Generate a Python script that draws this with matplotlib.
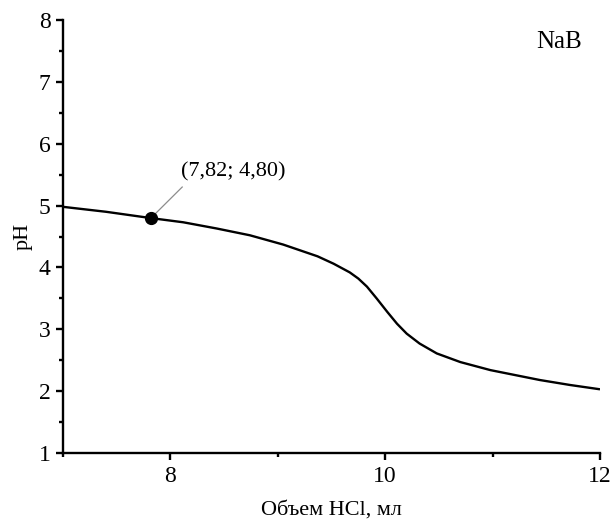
"""
Кривая титрования NaB раствором HCl
"""

import matplotlib.pyplot as plt
from matplotlib.ticker import MultipleLocator

# Данные
volume_hcl = [7.0, 7.4, 7.81, 8.12, 8.43, 8.74, 9.05, 9.37, 9.52, 9.67,
              9.75, 9.83, 9.92, 10.02, 10.11, 10.20, 10.32, 10.48, 10.70,
              10.98, 11.44, 11.72, 12.0]
ph_values = [4.98, 4.90, 4.80, 4.73, 4.63, 4.52, 4.37, 4.18, 4.06, 3.92,
             3.82, 3.69, 3.50, 3.28, 3.09, 2.93, 2.77, 2.61, 2.47,
             2.34, 2.18, 2.10, 2.03]
point_x, point_y = 7.82, 4.80
point_label = "(7,82; 4,80)"
salt_label = "NaB"

plt.rcParams["font.family"] = ["Liberation Serif", "DejaVu Serif"]

fig = plt.figure(figsize=(6.14, 5.27), dpi=100)
ax = fig.add_axes([0.1026, 0.1404, 0.8746, 0.8216])

ax.plot(volume_hcl, ph_values, color="black", linewidth=1.7,
        solid_capstyle="butt", solid_joinstyle="round")
ax.plot([point_x], [point_y], "o", color="black", markersize=8.5, zorder=5)

# выноска к точке
ax.plot([point_x, 8.11], [point_y, 5.30], color="#8c8c8c", linewidth=0.9, zorder=4)
ax.text(8.10, 5.54, point_label, fontsize=16, ha="left", va="center")
ax.text(11.41, 7.64, salt_label, fontsize=18, ha="left", va="center")

ax.set_xlim(7, 12)
ax.set_ylim(1, 8)
ax.xaxis.set_major_locator(MultipleLocator(2))
ax.xaxis.set_minor_locator(MultipleLocator(1))
ax.yaxis.set_major_locator(MultipleLocator(1))
ax.yaxis.set_minor_locator(MultipleLocator(0.5))

for side in ("top", "right"):
    ax.spines[side].set_visible(False)
for side in ("left", "bottom"):
    ax.spines[side].set_linewidth(1.7)

ax.tick_params(which="major", direction="out", length=5, width=1.7,
               labelsize=17, pad=4)
ax.tick_params(which="minor", direction="out", length=3, width=1.7)

ax.set_xlabel("Объем HCl, мл", fontsize=16, labelpad=10)
ax.set_ylabel("pH", fontsize=16, labelpad=4)

fig.savefig("out.png", dpi=100)
plt.close(fig)
